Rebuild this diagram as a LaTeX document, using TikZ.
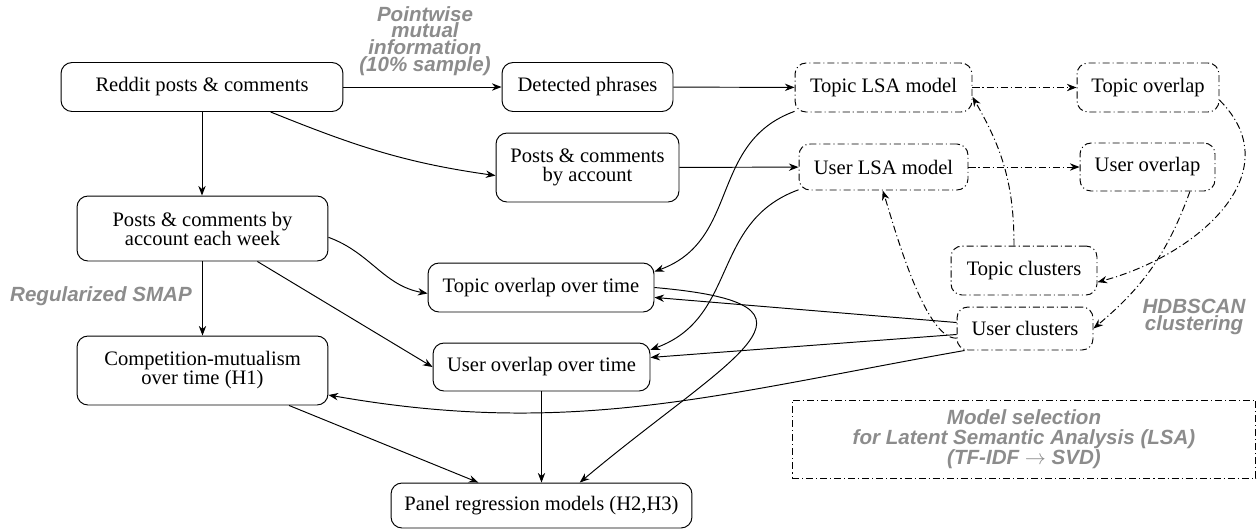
\documentclass[tikz,border=0pt]{standalone}
\usepackage{fontspec}
\setmainfont{Liberation Serif}
\newfontfamily\glabfont{Liberation Sans}
\usetikzlibrary{arrows.meta,calc}
\definecolor{glab}{RGB}{140,140,140}
\begin{document}
\begin{tikzpicture}[x=0.02cm,y=0.02cm,
  box/.style={draw, rounded corners=0.22cm, line width=0.55pt, align=center, inner sep=1pt,
    font=\fontsize{11.7}{10.8}\selectfont},
  dd/.style={dash pattern=on 4pt off 1.7pt on 0.6pt off 1.7pt},
  arr/.style={-{Stealth[length=5.5pt,width=4.2pt,inset=1.8pt]}, line width=0.55pt},
  glabel/.style={text=glab, align=center, inner sep=0pt,
    font=\glabfont\fontsize{11.7}{9.6}\selectfont\bfseries\itshape}]
\useasboundingbox (0,0) rectangle (1260,-529);

% nodes
\node[box, minimum width=5.64cm, minimum height=0.98cm] (reddit) at (202,-87) {Reddit posts \& comments};
\node[box, minimum width=3.42cm, minimum height=0.98cm] (detected) at (587.5,-87) {Detected phrases};
\node[box, minimum width=3.66cm, minimum height=1.38cm] (pba) at (587.5,-167.5) {Posts \& comments\\by account};
\node[box, dd, minimum width=3.54cm, minimum height=0.98cm] (tlsa) at (883.5,-87.5) {Topic LSA model};
\node[box, dd, minimum width=3.38cm, minimum height=0.92cm] (ulsa) at (883.5,-167) {User LSA model};
\node[box, dd, minimum width=2.84cm, minimum height=0.98cm] (topo) at (1148,-87.5) {Topic overlap};
\node[box, dd, minimum width=2.70cm, minimum height=0.96cm] (uo) at (1147.5,-167) {User overlap};
\node[box, dd, minimum width=2.92cm, minimum height=0.98cm] (tc) at (1024,-270.5) {Topic clusters};
\node[box, dd, minimum width=2.72cm, minimum height=0.86cm] (uc) at (1025,-328.5) {User clusters};
\node[box, minimum width=5.02cm, minimum height=1.30cm] (week) at (202.5,-228.5) {Posts \& comments by\\account each week};
\node[box, minimum width=4.52cm, minimum height=0.98cm] (too) at (541,-287.5) {Topic overlap over time};
\node[box, minimum width=4.34cm, minimum height=0.96cm] (uot) at (541.5,-367) {User overlap over time};
\node[box, minimum width=5.02cm, minimum height=1.38cm] (cm) at (202.5,-370.5) {Competition-mutualism\\over time (H1)};
\node[box, minimum width=6.02cm, minimum height=0.90cm] (panel) at (541.5,-505.5) {Panel regression models (H2,H3)};

% gray labels
\node[glabel] (pmi) at (425,-41) {Pointwise\\mutual\\information\\(10\% sample)};
\node[glabel] (smap) at (101,-296) {Regularized SMAP};
\node[glabel] (hdb) at (1194,-317) {HDBSCAN\\clustering};
\node[glabel, draw=black, dd, line width=0.55pt, minimum width=9.28cm, minimum height=1.56cm,
  font=\glabfont\fontsize{11.7}{11.3}\selectfont\bfseries\itshape] (ms) at (1024,-439)
  {Model selection\\for Latent Semantic Analysis (LSA)\\(TF-IDF $\rightarrow$ SVD)};

% solid connectors
\draw[arr] (reddit) -- (detected);
\draw[arr] (detected) -- (tlsa);
\draw[arr] (pba) -- (ulsa);
\draw[arr] (reddit.-20) to[out=-22,in=172] (pba.185);
\draw[arr] (reddit.south) -- (reddit.south |- week.north);
\draw[arr] (week.south) -- (week.south |- cm.north);
\draw[arr] (week.-4) to[out=-20,in=170] (too.183);
\draw[arr] (week.-31) -- (uot.west);
\draw[arr] (tlsa.195) to[out=200,in=20,looseness=1.1] (too.8);
\draw[arr] (ulsa.195) to[out=200,in=20,looseness=1.1] (uot.9);
\draw[arr] (uc.175) -- (too.-5);
\draw[arr] (uc.185) -- (uot.5);
\draw[arr] (uc.200) to[out=190,in=-10] (cm.-11);
\draw[arr] (too.east) to[out=-5,in=40,looseness=2.4] (panel.31);
\draw[arr] (cm.-22) -- (panel.160);
\draw[arr] (uot.south) -- (uot.south |- panel.north);

% dash-dot connectors
\draw[arr,dd] (tlsa) -- (topo);
\draw[arr,dd] (ulsa) -- (uo);
\draw[arr,dd] (topo.-10) to[out=-45,in=15,looseness=1.2] (tc.-9);
\draw[arr,dd] (uo.-30) to[out=-110,in=40] (uc.east);
\draw[arr,dd] ($(tc.north)+(-10,0)$) to[out=90,in=-60] (tlsa.-6);
\draw[arr,dd] (uc.188) to[out=183,in=-72,looseness=0.5] (ulsa.-92);
\end{tikzpicture}
\end{document}
